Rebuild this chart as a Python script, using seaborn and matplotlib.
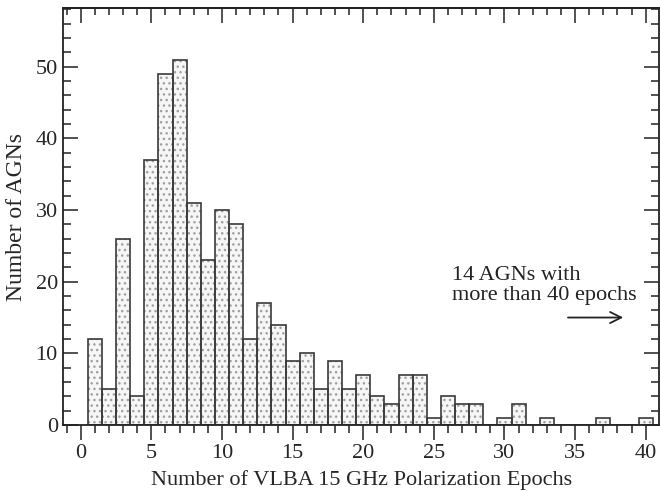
import numpy as np
import pandas as pd
import matplotlib
matplotlib.use("Agg")
import matplotlib.pyplot as plt
from matplotlib.ticker import MultipleLocator
import seaborn as sns

# Datos
epochs = list(range(1, 41))
counts = [12, 5, 26, 4, 37, 49, 51, 31, 23, 30,
          28, 12, 17, 14, 9, 10, 5, 9, 5, 7,
          4, 3, 7, 7, 1, 4, 3, 3, 0, 1,
          3, 0, 1, 0, 0, 0, 1, 0, 0, 1]
note_text = "14 AGNs with\nmore than 40 epochs"

df = pd.DataFrame({"epochs": epochs, "count": counts})

sns.set_style("ticks")
plt.rcParams["font.family"] = ["Liberation Serif", "DejaVu Serif"]
plt.rcParams["hatch.linewidth"] = 1.0

fig = plt.figure(figsize=(6.6, 4.91), dpi=100)
ax = fig.add_axes([0.096, 0.1344, 0.9025, 0.8493])

# relleno punteado
sns.histplot(data=df, x="epochs", weights="count", discrete=True, ax=ax,
             color="#f6f6f6", edgecolor="#a0a0a0", linewidth=0,
             hatch="...", alpha=1)
# contorno de las barras
sns.histplot(data=df, x="epochs", weights="count", discrete=True, ax=ax,
             fill=False, color="#3a3a3a", linewidth=1.2)

ax.set_xlim(-1.23, 40.94)
ax.set_ylim(0, 58.2)

ax.xaxis.set_major_locator(MultipleLocator(5))
ax.xaxis.set_minor_locator(MultipleLocator(1))
ax.yaxis.set_major_locator(MultipleLocator(10))
ax.yaxis.set_minor_locator(MultipleLocator(2))

ax.tick_params(axis="x", which="both", direction="out", top=False,
               labelsize=16, width=1.1, color="#222222", pad=3)
ax.tick_params(axis="y", which="both", direction="in", right=True,
               labelsize=16, width=1.1, color="#222222", pad=4)
ax.tick_params(which="major", length=11)
ax.tick_params(which="minor", length=6)

# ticks superiores hacia dentro
top = ax.secondary_xaxis("top")
top.xaxis.set_major_locator(MultipleLocator(5))
top.xaxis.set_minor_locator(MultipleLocator(1))
top.tick_params(which="both", direction="in", labeltop=False, width=1.1,
                color="#222222")
top.tick_params(which="major", length=11)
top.tick_params(which="minor", length=5)
top.spines["top"].set_linewidth(1.3)

for s in ax.spines.values():
    s.set_linewidth(1.3)
    s.set_color("#222222")

ax.set_xlabel("Number of VLBA 15 GHz Polarization Epochs", fontsize=16,
              labelpad=5)
ax.set_ylabel("Number of AGNs", fontsize=17, labelpad=6)

ax.text(26.3, 17.4, note_text, fontsize=16, ha="left", va="baseline",
        linespacing=1.1, color="#222222")
ax.annotate("", xy=(38.6, 15), xytext=(34.3, 15),
            arrowprops=dict(arrowstyle="->", color="#222222", lw=1.3,
                            mutation_scale=20))

fig.savefig("out.png", dpi=100)
